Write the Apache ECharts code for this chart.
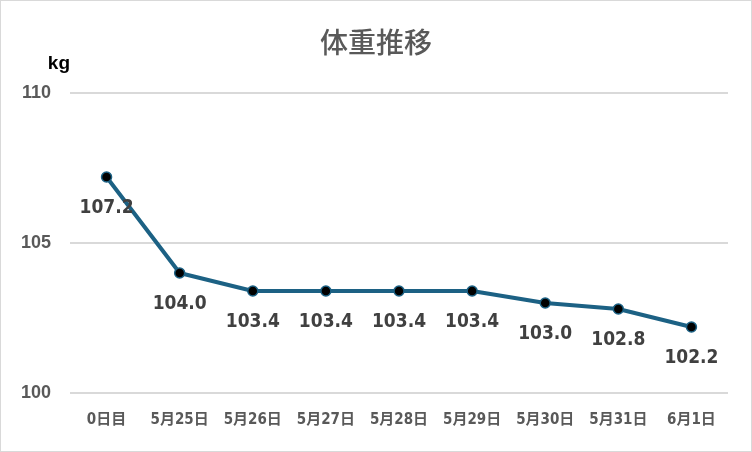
<!DOCTYPE html>
<html>
<head>
<meta charset="utf-8">
<script src="https://cdn.jsdelivr.net/npm/echarts@6/dist/echarts.min.js"></script>
<style>
html,body{margin:0;padding:0;background:#fff}
#chart{width:750px;height:450px;border:1px solid #d9d9d9}
</style>
</head>
<body>
<div id="chart"></div>
<script>
var categories = ['0日目', '5月25日', '5月26日', '5月27日', '5月28日', '5月29日', '5月30日', '5月31日', '6月1日'];
var weights = [107.2, 104.0, 103.4, 103.4, 103.4, 103.4, 103.0, 102.8, 102.2];
var yMin = 100, yMax = 110, yStep = 5;

var chart = echarts.init(document.getElementById('chart'));
var option = {
    animation: false,
    title: {
        text: '体重推移',
        left: 'center',
        top: 22,
        textStyle: {
            fontFamily: 'Noto Sans CJK JP',
            fontSize: 28,
            fontWeight: 500,
            color: '#595959'
        }
    },
    grid: {
        left: 69,
        right: 23,
        top: 92,
        bottom: 58
    },
    xAxis: {
        type: 'category',
        data: categories,
        boundaryGap: true,
        axisLine: { show: false },
        axisTick: { show: false },
        axisLabel: {
            interval: 0,
            margin: 20,
            fontFamily: 'DejaVu Sans Condensed, Noto Sans CJK JP',
            fontWeight: 'bold',
            fontSize: 15,
            color: '#595959'
        }
    },
    yAxis: {
        type: 'value',
        min: yMin,
        max: yMax,
        interval: yStep,
        name: 'kg',
        nameLocation: 'end',
        nameGap: 20,
        nameTextStyle: {
            fontFamily: 'Liberation Sans',
            fontWeight: 'bold',
            fontSize: 19,
            color: '#000',
            align: 'right',
            padding: [0, 0, 0, 0]
        },
        axisLine: { show: false },
        axisTick: { show: false },
        axisLabel: {
            margin: 19,
            fontFamily: 'Liberation Sans',
            fontWeight: 'bold',
            fontSize: 18,
            color: '#595959'
        },
        splitLine: {
            lineStyle: { color: '#d9d9d9', width: 2 }
        }
    },
    series: [{
        type: 'line',
        data: weights,
        symbol: 'circle',
        symbolSize: 10,
        lineStyle: { color: '#1c6184', width: 4 },
        itemStyle: { color: '#000', borderColor: '#1c6184', borderWidth: 1.5 },
        label: {
            show: true,
            position: 'bottom',
            distance: 16,
            formatter: function (p) { return p.value.toFixed(1); },
            fontFamily: 'DejaVu Sans Condensed',
            fontWeight: 'bold',
            fontSize: 19,
            color: '#404040'
        }
    }]
};
chart.setOption(option);
</script>
</body>
</html>
